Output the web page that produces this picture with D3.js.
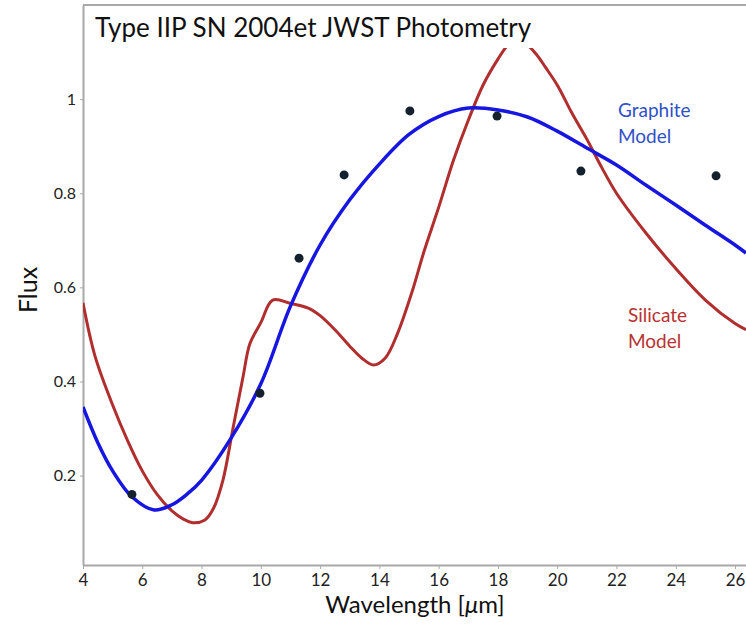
<!DOCTYPE html>
<html>
<head>
<meta charset="utf-8">
<script src="https://cdn.jsdelivr.net/npm/d3@7"></script>
<style>
  body { margin: 0; background: #fff; }
  svg { display: block; }
</style>
</head>
<body>
<script>
// photometry points
const obsWave = [5.65, 9.97, 11.29, 12.81, 15.03, 17.97, 20.80, 25.36];
const obsFlux = [0.160, 0.375, 0.662, 0.839, 0.975, 0.964, 0.847, 0.837];

// graphite model curve
const graphiteWave = [4, 4.5, 5, 5.65, 6.4, 7, 7.5, 8, 9, 10, 11, 12, 13, 14, 15, 16, 17, 18, 19, 20, 21, 22, 23, 24, 25, 26, 26.37];
const graphiteFlux = [0.346, 0.27, 0.21, 0.155, 0.127, 0.138, 0.16, 0.19, 0.28, 0.395, 0.56, 0.69, 0.786, 0.862, 0.925, 0.963, 0.981, 0.977, 0.962, 0.932, 0.896, 0.86, 0.817, 0.775, 0.732, 0.69, 0.673];

// silicate model curve
const silicateWave = [4, 4.4, 5, 5.5, 6, 6.5, 7, 7.4, 7.7, 8.1, 8.4, 8.72, 9.06, 9.4, 9.63, 10, 10.4, 11, 11.6, 12, 12.5, 13, 13.4, 13.8, 14.2, 14.6, 15.1, 15.5, 16, 16.5, 17, 17.5, 18, 18.3, 18.6, 18.9, 19.3, 19.6, 20, 20.5, 21, 21.5, 22, 23, 24, 25, 26, 26.37];
const silicateFlux = [0.567, 0.455, 0.35, 0.275, 0.21, 0.16, 0.125, 0.107, 0.10, 0.105, 0.13, 0.19, 0.30, 0.41, 0.48, 0.525, 0.573, 0.566, 0.556, 0.54, 0.51, 0.475, 0.45, 0.435, 0.45, 0.50, 0.59, 0.675, 0.77, 0.87, 0.955, 1.03, 1.085, 1.112, 1.126, 1.12, 1.095, 1.068, 1.03, 0.97, 0.915, 0.855, 0.80, 0.715, 0.64, 0.573, 0.523, 0.51];

const xTicks = [4, 6, 8, 10, 12, 14, 16, 18, 20, 22, 24, 26];
const yTicks = [0.2, 0.4, 0.6, 0.8, 1];

const width = 746, height = 624;
const margin = { top: 5, right: 0, bottom: 59, left: 83 };
const titleBottom = 48;

const svg = d3.select('body').append('svg')
  .attr('width', width)
  .attr('height', height)
  .style('background-color', 'white');

const x = d3.scaleLinear()
  .domain([4, 26.37])
  .range([margin.left, width - margin.right]);

const y = d3.scaleLinear()
  .domain([0.01, 1.2])
  .range([height - margin.bottom, margin.top]);

svg.append('defs').append('clipPath')
  .attr('id', 'plot-clip')
  .append('rect')
  .attr('x', margin.left)
  .attr('y', titleBottom)
  .attr('width', width - margin.left - margin.right)
  .attr('height', height - margin.bottom - titleBottom);

// axes
const axisColor = '#a8a8a8';
const tickFont = 'Lato, "DejaVu Sans", sans-serif';

svg.append('g')
  .attr('transform', `translate(0,${height - margin.bottom})`)
  .call(d3.axisBottom(x).tickValues(xTicks).tickSize(4).tickSizeOuter(0).tickFormat(d3.format('d')))
  .call(g => g.select('.domain').attr('stroke', axisColor).attr('stroke-width', 2))
  .call(g => g.selectAll('.tick line').attr('stroke', axisColor))
  .call(g => g.selectAll('.tick text')
    .attr('fill', '#222')
    .attr('dy', '0.85em')
    .style('font-family', tickFont)
    .style('font-size', '17px'));

svg.append('g')
  .attr('transform', `translate(${margin.left},0)`)
  .call(d3.axisLeft(y).tickValues(yTicks).tickSize(3).tickSizeOuter(0).tickFormat(d => d3.format('~g')(d)))
  .call(g => g.select('.domain').attr('stroke', axisColor).attr('stroke-width', 2))
  .call(g => g.selectAll('.tick line').attr('stroke', axisColor))
  .call(g => g.selectAll('.tick text')
    .attr('fill', '#222')
    .attr('x', -7)
    .style('font-family', tickFont)
    .style('font-size', '16px'));

// top border of the frame
svg.append('line')
  .attr('x1', margin.left).attr('x2', width)
  .attr('y1', margin.top).attr('y2', margin.top)
  .attr('stroke', axisColor)
  .attr('stroke-width', 2);

// model curves
const line = d3.line()
  .x(d => x(d[0]))
  .y(d => y(d[1]))
  .curve(d3.curveCatmullRom.alpha(0.5));

const plot = svg.append('g').attr('clip-path', 'url(#plot-clip)');

plot.append('path')
  .datum(d3.zip(silicateWave, silicateFlux))
  .attr('fill', 'none')
  .attr('stroke', '#b02e2e')
  .attr('stroke-width', 3)
  .attr('d', line);

plot.append('path')
  .datum(d3.zip(graphiteWave, graphiteFlux))
  .attr('fill', 'none')
  .attr('stroke', '#1616e0')
  .attr('stroke-width', 3.5)
  .attr('d', line);

// photometry
svg.append('g')
  .selectAll('circle')
  .data(d3.zip(obsWave, obsFlux))
  .join('circle')
  .attr('cx', d => x(d[0]))
  .attr('cy', d => y(d[1]))
  .attr('r', 4.5)
  .attr('fill', '#15202e');

// labels
svg.append('text')
  .attr('x', 95)
  .attr('y', 37)
  .attr('fill', '#111')
  .style('font-family', 'Lato, "Open Sans", sans-serif')
  .style('font-size', '26px')
  .text('Type IIP SN 2004et JWST Photometry');

const xLabel = svg.append('text')
  .attr('x', 415)
  .attr('y', 613)
  .attr('text-anchor', 'middle')
  .attr('fill', '#111')
  .style('font-family', tickFont)
  .style('font-size', '24px');
xLabel.append('tspan').text('Wavelength [');
xLabel.append('tspan').style('font-style', 'italic').text('μ');
xLabel.append('tspan').text('m]');

svg.append('text')
  .attr('transform', 'translate(37,290) rotate(-90)')
  .attr('text-anchor', 'middle')
  .attr('fill', '#111')
  .style('font-family', 'Lato, "Open Sans", sans-serif')
  .style('font-size', '25px')
  .text('Flux');

const modelLabels = [
  { lines: ['Graphite', 'Model'], x: 618, y: 117, color: '#3050c8' },
  { lines: ['Silicate', 'Model'], x: 628, y: 322, color: '#b83232' }
];

modelLabels.forEach(l => {
  const t = svg.append('text')
    .attr('fill', l.color)
    .style('font-family', 'Lato, "Open Sans", sans-serif')
    .style('font-size', '19px');
  l.lines.forEach((s, i) => {
    t.append('tspan').attr('x', l.x).attr('y', l.y + i * 26).text(s);
  });
});
</script>
</body>
</html>
